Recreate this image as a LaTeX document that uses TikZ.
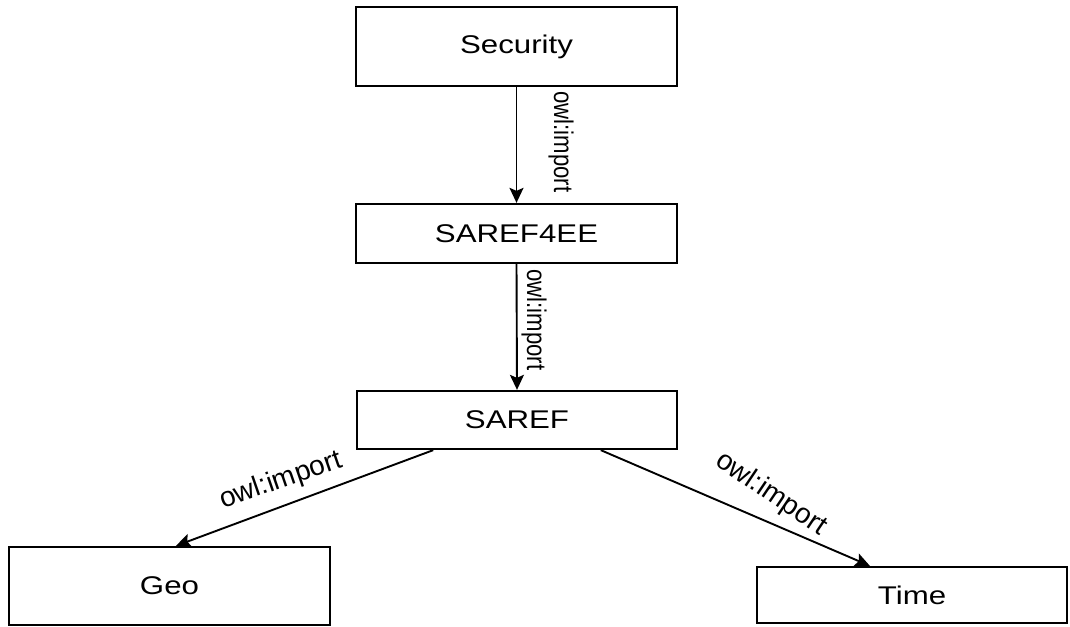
\documentclass[tikz,border=0pt]{standalone}
\usepackage{fontspec}
\setmainfont{Liberation Sans}
\newfontfamily\boxfont[FakeStretch=1.22]{Liberation Sans}
\newfontfamily\vlabfont[FakeStretch=0.82]{Liberation Sans}
\usetikzlibrary{arrows.meta,calc}
\tikzset{
  onto/.style={draw, line width=2.3pt, minimum width=320pt, inner sep=0pt,
    font=\boxfont\fontsize{25.6}{30}\selectfont},
  importarrow/.style={line width=1.9pt, -{Stealth[length=15pt,width=14pt,inset=3pt]}},
  vlabel/.style={rotate=-90, inner sep=0pt, font=\vlabfont\fontsize{27}{30}\selectfont},
  dlabel/.style={inner sep=0pt, font=\fontsize{28}{32}\selectfont}
}
\begin{document}
\begin{tikzpicture}[x=1pt,y=-1pt]
  \useasboundingbox[fill=white] (0,0) rectangle (1070,626);

  % ontology modules
  \node[onto, minimum width=321pt, minimum height=79pt] (sec)  at (516.5,46.5) {Security};
  \node[onto, minimum width=321pt, minimum height=59pt] (s4ee) at (516.5,233.5) {SAREF4EE};
  \node[onto, minimum width=320pt, minimum height=58pt] (saref) at (517,420) {SAREF};
  \node[onto, minimum width=321pt, minimum height=78pt] (geo)  at (169.5,586) {Geo};
  \node[onto, minimum width=310pt, minimum height=56pt] (time) at (912,595) {Time};

  % attachment points on the lower modules
  \coordinate (sarefL) at ($(saref.south west)!0.24!(saref.south east)$);
  \coordinate (sarefR) at ($(saref.south west)!0.76!(saref.south east)$);
  \coordinate (geoT)   at ($(geo.north west)!0.52!(geo.north east)$);
  \coordinate (timeT)  at ($(time.north west)!0.365!(time.north east)$);

  % import relations
  \draw[importarrow] (sec.south) -- (s4ee.north);
  \draw[importarrow] (s4ee.south) -- (saref.north);
  \draw[importarrow] (sarefL) -- (geoT);
  \draw[importarrow] (sarefR) -- (timeT);

  % relation labels
  \node[vlabel] (l1) at (561,142) {owl:import};
  \node[vlabel] (l2) at (534,320) {owl:import};
  \node[dlabel, rotate=19]  (l3) at (281,481) {owl:import};
  \node[dlabel, rotate=-34] (l4) at (771,494) {owl:import};
\end{tikzpicture}
\end{document}
